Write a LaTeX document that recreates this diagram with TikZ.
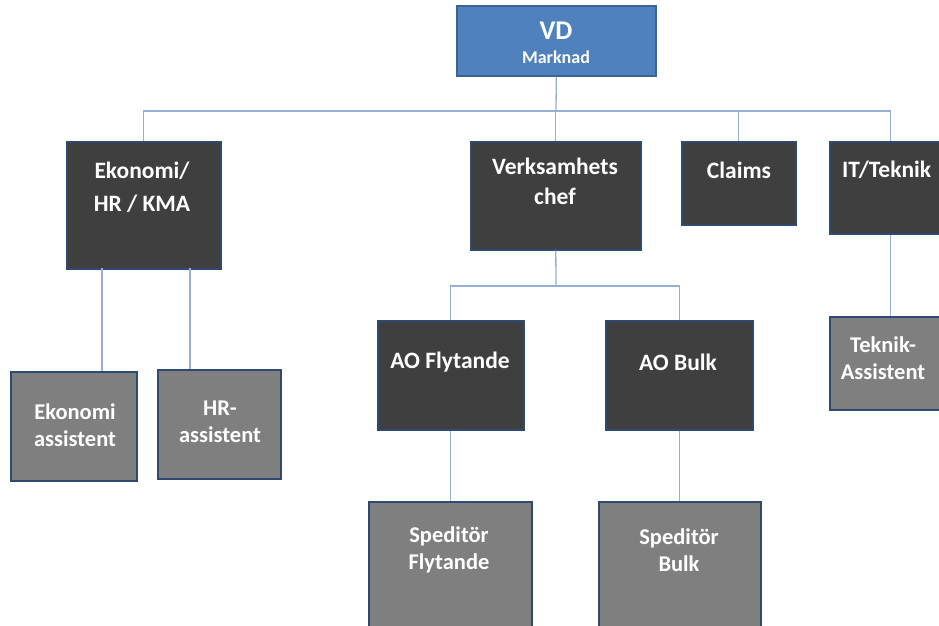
\documentclass[tikz,border=0pt]{standalone}
\usepackage{fontspec}
\setmainfont{Carlito}
\definecolor{vdblue}{HTML}{4F81BD}
\definecolor{vdedge}{HTML}{3A6396}
\definecolor{darkfill}{HTML}{3F3F3F}
\definecolor{grayfill}{HTML}{7F7F7F}
\definecolor{boxedge}{HTML}{2E4A72}
\definecolor{connblue}{HTML}{95B0D2}
\tikzset{
  darkbox/.style={draw=boxedge, line width=1.6pt, fill=darkfill, rectangle, inner sep=0pt, anchor=north west},
  graybox/.style={draw=boxedge, line width=1.6pt, fill=grayfill, rectangle, inner sep=0pt, anchor=north west},
  vdbox/.style={draw=vdedge, line width=1.6pt, fill=vdblue, rectangle, inner sep=0pt, anchor=north west},
  dlbl/.style={text=white, font=\bfseries\fontsize{23.5}{30}\selectfont, align=center, inner sep=0pt},
  glbl/.style={text=white, font=\bfseries\fontsize{22.5}{26.5}\selectfont, align=center, inner sep=0pt},
  conn/.style={draw=connblue, line width=1.3pt},
}
\begin{document}
\begin{tikzpicture}[x=1pt,y=-1pt]
\useasboundingbox (0,0) rectangle (939,626);
\clip (0,0) rectangle (939,626);
\fill[white] (0,0) rectangle (939,626);
% boxes
\node[vdbox, minimum width=199, minimum height=70] (vd) at (456,5) {};
\node[darkbox, minimum width=154, minimum height=127] (eko) at (66,141) {};
\node[darkbox, minimum width=170, minimum height=108] (vc) at (470,141) {};
\node[darkbox, minimum width=114, minimum height=83] (cl) at (681,141) {};
\node[darkbox, minimum width=122, minimum height=92] (it) at (829,141) {};
\node[darkbox, minimum width=146, minimum height=109] (aof) at (377,320) {};
\node[darkbox, minimum width=147, minimum height=109] (aob) at (605,320) {};
\node[graybox, minimum width=126, minimum height=109] (ekoa) at (10,371) {};
\node[graybox, minimum width=123, minimum height=109] (hra) at (157,369) {};
\node[graybox, minimum width=122, minimum height=93] (tka) at (829,316) {};
\node[graybox, minimum width=163, minimum height=140] (spf) at (368,501) {};
\node[graybox, minimum width=162, minimum height=140] (spb) at (598,501) {};
% labels
\node[text=white, font=\bfseries\fontsize{27}{27}\selectfont, inner sep=0pt] (vdL1) at (556,31) {VD};
\node[text=white, font=\bfseries\fontsize{18}{18}\selectfont, inner sep=0pt] (vdL2) at (556,57) {Marknad};
\node[dlbl, font=\bfseries\fontsize{23.5}{33}\selectfont] (ekoL) at (142,187) {Ekonomi/\\HR / KMA};
\node[dlbl] (vcL) at (555,181) {Verksamhets\\chef};
\node[dlbl] (clL) at (739,170) {Claims};
\node[dlbl, anchor=west] (itL) at (842,170) {IT/Teknik};
\node[dlbl] (aofL) at (450,362) {AO Flytande};
\node[dlbl] (aobL) at (678,362) {AO Bulk};
\node[glbl] (ekoaL) at (75,425) {Ekonomi\\assistent};
\node[glbl] (hraL) at (220,422) {HR-\\assistent};
\node[glbl] (tkaL) at (883,358) {Teknik-\\Assistent};
\node[glbl] (spfL) at (449,550) {Speditör\\Flytande};
\node[glbl] (spbL) at (679,550) {Speditör\\Bulk};
% connectors
\coordinate (bus) at (556,111);
\draw[conn] (vd.south) -- (bus);
\draw[conn] (eko.north) |- (bus) -| (it.north);
\draw[conn] (vc.north) -- (vc.north |- bus);
\draw[conn] (cl.north) -- (cl.north |- bus);
\coordinate (sub) at (556,286);
\draw[conn] (vc.south) -- (sub);
\draw[conn] (aof.north) |- (sub) -| (aob.north);
\draw[conn] (aof.south) -- (aof.south |- spf.north);
\draw[conn] (aob.south) -- (aob.south |- spb.north);
\draw[conn] (it.south) -- (tka.north);
\coordinate (e1) at (102,268);
\coordinate (e2) at (190,268);
\draw[conn] (e1) -- (e1 |- ekoa.north);
\draw[conn] (e2) -- (e2 |- hra.north);
\end{tikzpicture}
\end{document}
